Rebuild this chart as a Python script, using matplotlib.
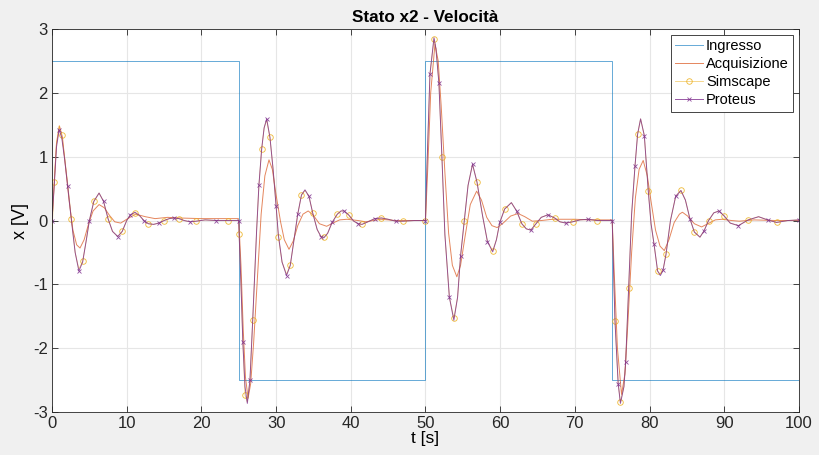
import matplotlib
matplotlib.use("Agg")
import matplotlib.pyplot as plt
from matplotlib.colors import to_rgba

# ---------------- data ----------------
ingresso_t = [0, 25, 25, 50, 50, 75, 75, 100]
ingresso_v = [2.5, 2.5, -2.5, -2.5, 2.5, 2.5, -2.5, -2.5]

acq_t = [0.0, 0.3, 0.6, 1.0, 1.4, 1.8, 2.3, 2.8, 3.3, 3.75, 4.3, 4.9, 5.5, 6.3, 7.0, 7.7, 8.4, 9.2,
         10.0, 11.2, 12.5, 13.8, 15.5, 17.0, 20.0, 24.95,
         25.0, 25.3, 25.6, 25.9, 26.25, 26.6, 27.0, 27.5, 28.0, 28.5, 29.05, 29.5, 30.0, 30.6, 31.1,
         31.73, 32.3, 32.9, 33.6, 34.3, 35.0, 35.8, 36.77, 37.6, 38.5, 39.5, 41.0, 42.0, 44.0, 46.0, 49.95,
         50.0, 50.3, 50.7, 51.27, 51.7, 52.1, 52.6, 53.1, 53.6, 54.2, 54.7, 55.3, 56.0, 56.85, 57.5,
         58.2, 58.9, 59.6, 60.4, 61.4, 62.4, 63.3, 64.3, 65.5, 67.0, 70.0, 72.0, 74.95,
         75.0, 75.3, 75.7, 76.25, 76.7, 77.1, 77.6, 78.1, 78.6, 79.15, 79.7, 80.2, 80.8, 81.4, 81.97,
         82.6, 83.3, 84.0, 84.4, 85.1, 86.0, 86.97, 87.8, 88.8, 89.7, 91.0, 92.0, 94.0, 97.0, 100.0]
acq_v = [0.00, 0.60, 1.20, 1.48, 1.30, 0.85, 0.30, -0.15, -0.38, -0.43, -0.30, -0.05, 0.15, 0.25, 0.20,
         0.08, -0.02, -0.04, 0.02, 0.10, 0.06, 0.03, 0.05, 0.04, 0.03, 0.03,
         0.02, -0.70, -1.70, -2.45, -2.78, -2.55, -1.90, -0.90, 0.10, 0.70, 0.95, 0.80, 0.40, -0.02, -0.30,
         -0.45, -0.32, -0.08, 0.10, 0.15, 0.08, -0.05, -0.09, -0.04, 0.01, 0.02, 0.00, -0.02, 0.02, 0.00, 0.00,
         0.00, 0.80, 2.00, 2.76, 2.50, 1.80, 0.75, -0.20, -0.70, -0.88, -0.70, -0.25, 0.25, 0.46, 0.32,
         0.05, -0.08, -0.11, -0.04, 0.07, 0.11, 0.06, -0.01, 0.00, 0.02, 0.02, 0.01, 0.01,
         0.01, -0.90, -2.00, -2.72, -2.40, -1.60, -0.50, 0.35, 0.80, 0.94, 0.70, 0.30, -0.15, -0.40, -0.47,
         -0.30, -0.03, 0.10, 0.13, 0.07, -0.05, -0.10, -0.05, 0.01, 0.02, 0.00, -0.01, 0.01, 0.00, 0.00]

model_t = [0.0, 0.3, 0.6, 0.95, 1.3, 1.7, 2.1, 2.6, 3.1, 3.6, 4.1, 4.6, 5.0, 5.6, 6.3, 6.9, 7.5, 8.1,
           8.8, 9.4, 10.0, 10.5, 11.1, 11.7, 12.3, 12.9, 13.6, 14.3, 15.0, 15.7, 16.3, 17.0, 17.7,
           18.5, 19.3, 20.5, 22.0, 23.5, 24.95,
           25.0, 25.05, 25.3, 25.55, 25.84, 26.15, 26.5, 26.87, 27.4, 27.7, 28.07, 28.4, 28.74, 29.18,
           29.6, 30.0, 30.3, 30.8, 31.4, 31.9, 32.4, 32.9, 33.4, 33.87, 34.4, 34.9, 35.5, 36.0, 36.4,
           36.9, 37.5, 38.2, 38.7, 39.1, 39.7, 40.4, 41.0, 41.5, 42.3, 43.2, 44.1, 45.0, 46.0, 47.0,
           48.5, 49.97,
           50.0, 50.2, 50.6, 51.14, 51.4, 51.8, 52.2, 52.6, 53.2, 53.8, 54.3, 54.7, 55.2, 55.7, 56.3,
           56.9, 57.65, 58.3, 59.0, 59.5, 59.95, 60.6, 61.5, 62.2, 62.9, 63.5, 64.1, 64.8, 65.5, 66.4,
           67.3, 68.0, 68.8, 69.7, 70.7, 71.8, 73.0, 74.97,
           75.0, 75.37, 75.5, 75.8, 76.1, 76.57, 76.8, 77.2, 77.6, 78.05, 78.4, 78.8, 79.3, 79.83,
           80.2, 80.6, 81.08, 81.45, 81.8, 82.2, 82.8, 83.5, 84.2, 84.8, 85.4, 86.0, 86.75, 87.3,
           87.9, 88.6, 89.3, 90.0, 90.8, 91.9, 93.2, 94.6, 95.8, 97.0, 98.5, 100.0]
proteus_v = [0.00, 0.55, 1.15, 1.42, 1.30, 0.95, 0.54, 0.00, -0.50, -0.79, -0.65, -0.30, 0.00, 0.30,
             0.43, 0.30, 0.03, -0.17, -0.25, -0.17, 0.00, 0.09, 0.13, 0.08, 0.00, -0.05, -0.06, -0.04,
             0.00, 0.03, 0.04, 0.03, 0.00, -0.02, -0.01, 0.01, 0.00, 0.00, 0.00,
             0.00, -0.21, -1.00, -1.90, -2.60, -2.86, -2.50, -1.56, -0.14, 0.55, 1.12, 1.45, 1.59, 1.30,
             0.80, 0.23, -0.22, -0.65, -0.86, -0.70, -0.30, 0.10, 0.40, 0.48, 0.38, 0.12, -0.14, -0.25,
             -0.27, -0.20, -0.03, 0.10, 0.15, 0.15, 0.09, -0.01, -0.05, -0.06, -0.02, 0.03, 0.04, 0.02,
             -0.01, -0.01, 0.00, 0.00,
             0.00, 0.84, 2.29, 2.86, 2.69, 2.15, 1.00, -0.22, -1.20, -1.56, -1.20, -0.55, 0.00, 0.55,
             0.88, 0.60, 0.07, -0.33, -0.49, -0.30, -0.03, 0.18, 0.28, 0.15, -0.05, -0.13, -0.15, -0.05,
             0.05, 0.09, 0.04, -0.02, -0.04, -0.02, 0.01, 0.02, 0.00, 0.00,
             0.00, -1.57, -1.87, -2.55, -2.86, -2.60, -2.22, -1.05, 0.10, 0.85, 1.35, 1.59, 1.33, 0.46,
             -0.05, -0.37, -0.79, -0.86, -0.78, -0.53, 0.00, 0.38, 0.47, 0.32, 0.03, -0.18, -0.26, -0.16,
             0.00, 0.12, 0.15, 0.07, -0.04, -0.08, 0.01, 0.06, 0.01, -0.03, 0.00, 0.01]
simscape_v = [-0.17, 0.60, 1.22, 1.48, 1.34, 0.98, 0.58, 0.02, -0.50, -0.76, -0.64, -0.30, 0.00, 0.30,
              0.43, 0.30, 0.03, -0.17, -0.25, -0.17, 0.00, 0.09, 0.12, 0.08, 0.00, -0.05, -0.06, -0.04,
              0.00, 0.03, 0.04, 0.03, 0.00, -0.02, -0.01, 0.01, 0.00, 0.00, 0.00,
              0.00, -0.21, -1.00, -1.90, -2.73, -2.84, -2.50, -1.56, -0.14, 0.55, 1.12, 1.45, 1.57, 1.30,
              0.80, 0.23, -0.25, -0.65, -0.84, -0.70, -0.30, 0.10, 0.40, 0.47, 0.38, 0.12, -0.14, -0.25,
              -0.26, -0.20, -0.03, 0.10, 0.15, 0.15, 0.09, -0.01, -0.05, -0.06, -0.02, 0.03, 0.04, 0.02,
              -0.01, -0.01, 0.00, 0.00,
              0.00, 0.84, 2.29, 2.84, 2.69, 2.15, 1.00, -0.22, -1.20, -1.53, -1.20, -0.55, 0.00, 0.55,
              0.88, 0.60, 0.07, -0.33, -0.47, -0.30, -0.03, 0.18, 0.28, 0.15, -0.05, -0.13, -0.15, -0.05,
              0.05, 0.09, 0.04, -0.02, -0.04, -0.02, 0.01, 0.02, 0.00, 0.00,
              0.00, -1.57, -1.87, -2.55, -2.84, -2.60, -2.22, -1.05, 0.10, 0.85, 1.35, 1.59, 1.33, 0.46,
              -0.05, -0.37, -0.79, -0.84, -0.78, -0.53, 0.00, 0.38, 0.47, 0.32, 0.03, -0.18, -0.26, -0.16,
              0.00, 0.12, 0.15, 0.07, -0.04, -0.08, 0.01, 0.06, 0.01, -0.03, 0.00, 0.01]

labels = ["Ingresso", "Acquisizione", "Simscape", "Proteus"]
x_ticks = list(range(0, 101, 10))
y_ticks = [-3, -2, -1, 0, 1, 2, 3]

# ---------------- figure ----------------
plt.rcParams["font.family"] = ["Liberation Sans", "DejaVu Sans"]
plt.rcParams["axes.unicode_minus"] = False

fig = plt.figure(figsize=(8.19, 4.55), dpi=100, facecolor="#f0f0f0")
ax = fig.add_axes([0.0635, 0.0938, 0.912, 0.843])
ax.set_facecolor("white")

c_blue, c_orange, c_yellow, c_purple = "#0072BD", "#D95319", "#EDB120", "#7E2F8E"

ax.plot(ingresso_t, ingresso_v, color=to_rgba(c_blue, 0.6), lw=0.7, label=labels[0])
ax.plot(acq_t, acq_v, color=to_rgba(c_orange, 0.7), lw=0.7, label=labels[1])
ax.plot(model_t, simscape_v, color=to_rgba(c_yellow, 0.6), lw=0.6, marker="o", markersize=4.0,
        markerfacecolor="none", markeredgecolor=to_rgba(c_yellow, 0.9), markeredgewidth=0.6,
        markevery=(1, 3), label=labels[2])
ax.plot(model_t, proteus_v, color=to_rgba(c_purple, 0.8), lw=0.7, marker="x", markersize=2.8,
        markeredgecolor=to_rgba(c_purple, 0.85), markeredgewidth=0.6, markevery=(0, 3),
        label=labels[3])

ax.set_xlim(0, 100)
ax.set_ylim(-3, 3)
ax.set_xticks(x_ticks)
ax.set_yticks(y_ticks)
ax.grid(True, color="#e6e6e6", lw=0.8)
ax.set_axisbelow(True)
ax.tick_params(direction="in", length=4, width=0.6, colors="#262626", labelsize=12,
               top=True, right=True, pad=3)
for s in ax.spines.values():
    s.set_color("#262626")
    s.set_linewidth(0.6)

ax.set_title("Stato x2 - Velocità", fontsize=12.3, fontweight="bold", color="black", pad=5)
ax.set_xlabel("t [s]", fontsize=12.5, labelpad=0)
ax.set_ylabel("x [V]", fontsize=13, labelpad=3)

leg = ax.legend(loc="upper right", fontsize=10.5, fancybox=False, framealpha=1,
                edgecolor="#262626", borderaxespad=0.4, handlelength=1.9,
                handletextpad=0.2, labelspacing=0.28, borderpad=0.3)
leg.get_frame().set_linewidth(0.6)

fig.savefig("out.png", dpi=100, facecolor=fig.get_facecolor())
